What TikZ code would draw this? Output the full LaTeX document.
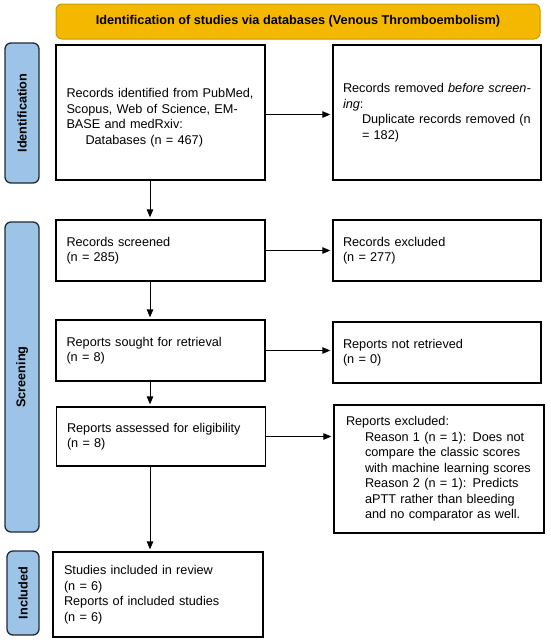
\documentclass[tikz,border=0pt]{standalone}
\usepackage{fontspec}
\setmainfont{Liberation Sans}
\usetikzlibrary{arrows.meta,calc}
\definecolor{bannerfill}{HTML}{F5B800}
\definecolor{bannerdraw}{HTML}{C89B00}
\definecolor{barfill}{HTML}{9DC3E6}
\definecolor{bardraw}{HTML}{1F2A36}
\newcommand{\js}[1]{\makebox[\linewidth][s]{#1}}
\newcommand{\ijs}[1]{\hspace*{19pt}\makebox[\dimexpr\linewidth-19pt\relax][s]{#1}}
\newcommand{\ind}[1]{\hspace*{19pt}#1}
\begin{document}
\begin{tikzpicture}[x=1pt,y=-1pt,
  every node/.style={font=\fontsize{12.7}{15.5}\selectfont},
  box/.style={draw=black, line width=1.3pt, fill=white, inner sep=0pt, align=left, text width=188pt},
  bar/.style={draw=bardraw, fill=barfill, line width=1.3pt, rounded corners=6pt, inner sep=0pt, rotate=90, font=\fontsize{12.7}{15.5}\selectfont\bfseries},
  banner/.style={draw=bannerdraw, fill=bannerfill, line width=1pt, rounded corners=6pt, inner sep=0pt, font=\fontsize{12.7}{15.5}\selectfont\bfseries},
  arr/.style={-{Triangle[length=8pt,width=6.5pt]}, line width=0.85pt, shorten >=2pt}
]
\useasboundingbox (0,0) rectangle (550,643);

\node[banner, minimum width=484pt, minimum height=35pt] (t) at (298,21.5) {Identification of studies via databases (Venous Thromboembolism)};

\node[bar, minimum width=140pt, minimum height=34pt] (s1) at (22,113) {Identification};
\node[bar, minimum width=310pt, minimum height=34pt] (s2) at (22,377) {Screening};
\node[bar, minimum width=84pt, minimum height=32pt] (s3) at (23,593) {Included};

\node[box, minimum width=209pt, minimum height=135pt] (b1) at (160.5,112.5)
 {\rule{0pt}{20pt}\js{Records identified from PubMed,}\\\js{Scopus, Web of Science, EM-}\\BASE and medRxiv:\\\ind{Databases (n = 467)}};
\node[box, minimum width=208pt, minimum height=135pt] (b2) at (437,112.5)
 {\js{Records removed \textit{before screen-}}\\\textit{ing}:\\\ijs{Duplicate records removed (n}\\\ind{= 182)}};

\node[box, minimum width=209pt, minimum height=61pt] (b3) at (160.5,250.5) {Records screened\\(n = 285)};
\node[box, minimum width=208pt, minimum height=61pt] (b4) at (437,250.5) {Records excluded\\(n = 277)};

\node[box, minimum width=209pt, minimum height=61pt] (b5) at (160.5,350.5) {Reports sought for retrieval\\(n = 8)};
\node[box, minimum width=208pt, minimum height=61pt] (b6) at (437,352.5) {Reports not retrieved\\(n = 0)};

\node[box, minimum width=209pt, minimum height=59pt] (b7) at (161,436.5) {Reports assessed for eligibility\\(n = 8)};
\node[box, minimum width=210pt, minimum height=128pt, text width=186pt] (b8) at (439,469)
 {Reports excluded:\\\ijs{Reason 1 (n = 1): Does not}\\\ijs{compare the classic scores}\\\ijs{with machine learning scores}\\\ijs{Reason 2 (n = 1): Predicts}\\\ijs{aPTT rather than bleeding}\\\ind{and no comparator as well.}};

\node[box, minimum width=210pt, minimum height=85pt] (b9) at (158,594.5) {Studies included in review\\(n = 6)\\Reports of included studies\\(n = 6)};

\coordinate (ax) at (150,0);
\draw[arr] ($(b1.east)+(0,2)$) -- ($(b2.west)+(0,2)$);
\draw[arr] (b3.east) -- (b4.west |- b3.east);
\draw[arr] (b5.east) -- (b6.west |- b5.east);
\draw[arr] (b7.east) -- (b8.west |- b7.east);
\draw[arr] (b1.south -| ax) -- (b3.north -| ax);
\draw[arr] (b3.south -| ax) -- (b5.north -| ax);
\draw[arr] (b5.south -| ax) -- (b7.north -| ax);
\draw[arr] (b7.south -| ax) -- (b9.north -| ax);
\end{tikzpicture}
\end{document}
